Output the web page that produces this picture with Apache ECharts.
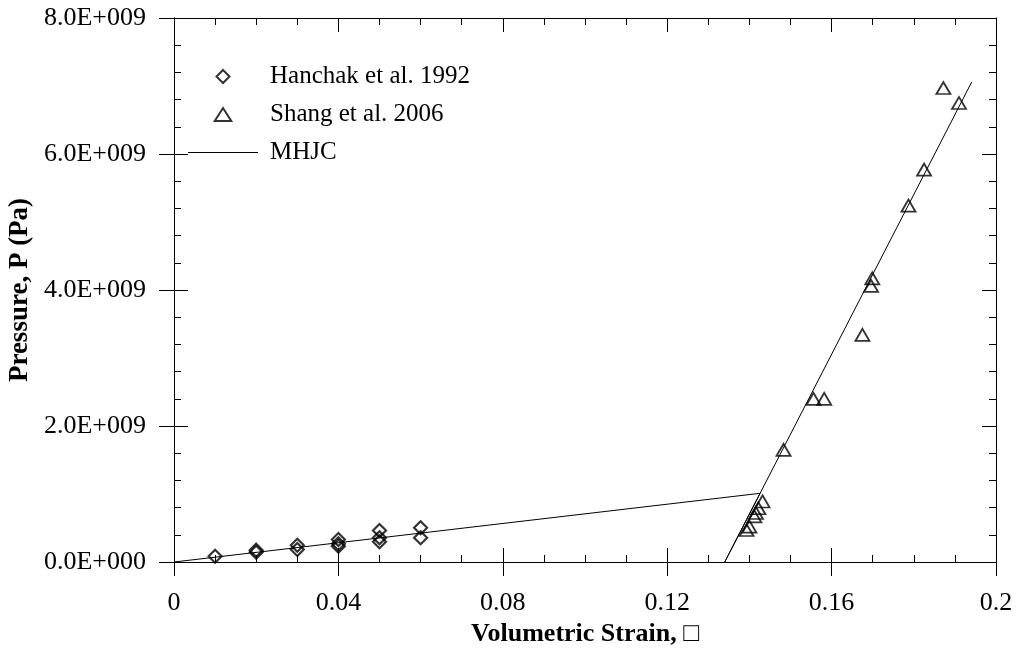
<!DOCTYPE html>
<html>
<head>
<meta charset="utf-8">
<title>Pressure vs Volumetric Strain</title>
<script src="https://cdn.jsdelivr.net/npm/echarts@6/dist/echarts.min.js"></script>
<style>
  html, body { margin: 0; padding: 0; background: #fff; }
  #chart { width: 1017px; height: 659px; }
</style>
</head>
<body>
<div id="chart"></div>
<script>
// data
var hanchakStrain = [0.01, 0.02, 0.02, 0.03, 0.03, 0.04, 0.04, 0.04, 0.05, 0.05, 0.05, 0.06, 0.06];
var hanchakPressure = [0.085e9, 0.174e9, 0.144e9, 0.247e9, 0.184e9, 0.331e9, 0.268e9, 0.232e9, 0.463e9, 0.356e9, 0.297e9, 0.503e9, 0.356e9];

var shangStrain = [0.1393, 0.1400, 0.1412, 0.1416, 0.1422, 0.1432, 0.1483, 0.1556, 0.1582, 0.1675, 0.1696, 0.1699, 0.1787, 0.1825, 0.1872, 0.1910];
var shangPressure = [0.47e9, 0.52e9, 0.67e9, 0.72e9, 0.79e9, 0.89e9, 1.65e9, 2.40e9, 2.40e9, 3.34e9, 4.06e9, 4.17e9, 5.24e9, 5.77e9, 6.97e9, 6.75e9];

// MHJC: linear part to the knee, then the steep branch (drawn back through the knee)
var mhjcStrain = [0, 0.1426, 0.134, 0.1941];
var mhjcPressure = [0, 1.01e9, 0, 7.06e9];

var xTickLabels = ['0', '0.04', '0.08', '0.12', '0.16', '0.2'];
var yTickLabels = ['0.0E+000', '2.0E+009', '4.0E+009', '6.0E+009', '8.0E+009'];

var seriesNames = ['Hanchak et al. 1992', 'Shang et al. 2006', 'MHJC'];

function pairs(xs, ys) {
  return xs.map(function (x, i) { return [x, ys[i]]; });
}

var font = 'Liberation Serif';

// an axis with only ticks (no labels), used to get the crossing / inward ticks
function plainX(pos, len, minor) {
  return {
    type: 'value', position: pos, min: 0, max: 0.2, interval: 0.04,
    axisLine: { show: true, onZero: false, lineStyle: { color: '#000', width: 1 } },
    axisTick: { show: true, inside: true, length: len, lineStyle: { color: '#000' } },
    minorTick: { show: minor, splitNumber: 4, length: 7, lineStyle: { color: '#000' } },
    axisLabel: { show: false },
    splitLine: { show: false }
  };
}
function plainY(pos, len, minor) {
  return {
    type: 'value', position: pos, min: 0, max: 8e9, interval: 2e9,
    axisLine: { show: true, onZero: false, lineStyle: { color: '#000', width: 1 } },
    axisTick: { show: true, inside: true, length: len, lineStyle: { color: '#000' } },
    minorTick: { show: minor, splitNumber: 5, length: 7, lineStyle: { color: '#000' } },
    axisLabel: { show: false },
    splitLine: { show: false }
  };
}

var myChart = echarts.init(document.getElementById('chart'));

option = {
  backgroundColor: '#fff',
  animation: false,
  grid: { left: 174, right: 21, top: 18, bottom: 97, outerBoundsMode: 'none' },
  legend: {
    orient: 'vertical',
    left: 188,
    top: 64,
    padding: 0,
    itemWidth: 70,
    itemHeight: 13,
    itemGap: 13,
    symbolKeepAspect: true,
    data: [
      { name: seriesNames[0], icon: 'path://M7,0L14,7L7,14L0,7Z' },
      { name: seriesNames[1], icon: 'path://M7,0L14,11L0,11Z' },
      { name: seriesNames[2], icon: 'path://M0,0L70,0L70,1.2L0,1.2Z' }
    ],
    textStyle: { fontFamily: font, fontSize: 25, lineHeight: 25, color: '#000', padding: [0, 0, 0, 7] }
  },
  xAxis: [
    {
      type: 'value', position: 'bottom', min: 0, max: 0.2, interval: 0.04,
      name: 'Volumetric Strain, \u25a1',
      nameLocation: 'middle',
      nameGap: 55,
      nameTextStyle: { fontFamily: font, fontSize: 26, fontWeight: 'bold', color: '#000' },
      axisLine: { show: true, onZero: false, lineStyle: { color: '#000', width: 1 } },
      axisTick: { show: true, length: 14, lineStyle: { color: '#000' } },
      axisLabel: {
        margin: 28, fontFamily: font, fontSize: 26, color: '#000',
        formatter: function (v, i) { return xTickLabels[i]; }
      },
      splitLine: { show: false }
    },
    plainX('bottom', 14, true),
    plainX('top', 14, true)
  ],
  yAxis: [
    {
      type: 'value', position: 'left', min: 0, max: 8e9, interval: 2e9,
      name: 'Pressure, P (Pa)',
      nameLocation: 'middle',
      nameGap: 138,
      nameTextStyle: { fontFamily: font, fontSize: 27, fontWeight: 'bold', color: '#000' },
      axisLine: { show: true, onZero: false, lineStyle: { color: '#000', width: 1 } },
      axisTick: { show: true, length: 15, lineStyle: { color: '#000' } },
      axisLabel: {
        margin: 28, fontFamily: font, fontSize: 26, color: '#000',
        formatter: function (v, i) { return yTickLabels[i]; }
      },
      splitLine: { show: false }
    },
    plainY('left', 14, true),
    plainY('right', 14, true)
  ],
  series: [
    {
      name: seriesNames[0],
      type: 'scatter',
      symbol: 'diamond',
      symbolSize: [13, 13],
      itemStyle: { color: 'transparent', borderColor: '#000', borderWidth: 2.2 },
      data: pairs(hanchakStrain, hanchakPressure),
      z: 3
    },
    {
      name: seriesNames[1],
      type: 'scatter',
      symbol: 'triangle',
      symbolSize: [14, 12],
      itemStyle: { color: 'transparent', borderColor: '#000', borderWidth: 1.8 },
      data: pairs(shangStrain, shangPressure),
      z: 3
    },
    {
      name: seriesNames[2],
      type: 'line',
      symbol: 'none',
      showSymbol: false,
      lineStyle: { color: '#000', width: 1 },
      itemStyle: { color: '#000' },
      data: pairs(mhjcStrain, mhjcPressure),
      z: 2
    }
  ]
};

myChart.setOption(option);
</script>
</body>
</html>
